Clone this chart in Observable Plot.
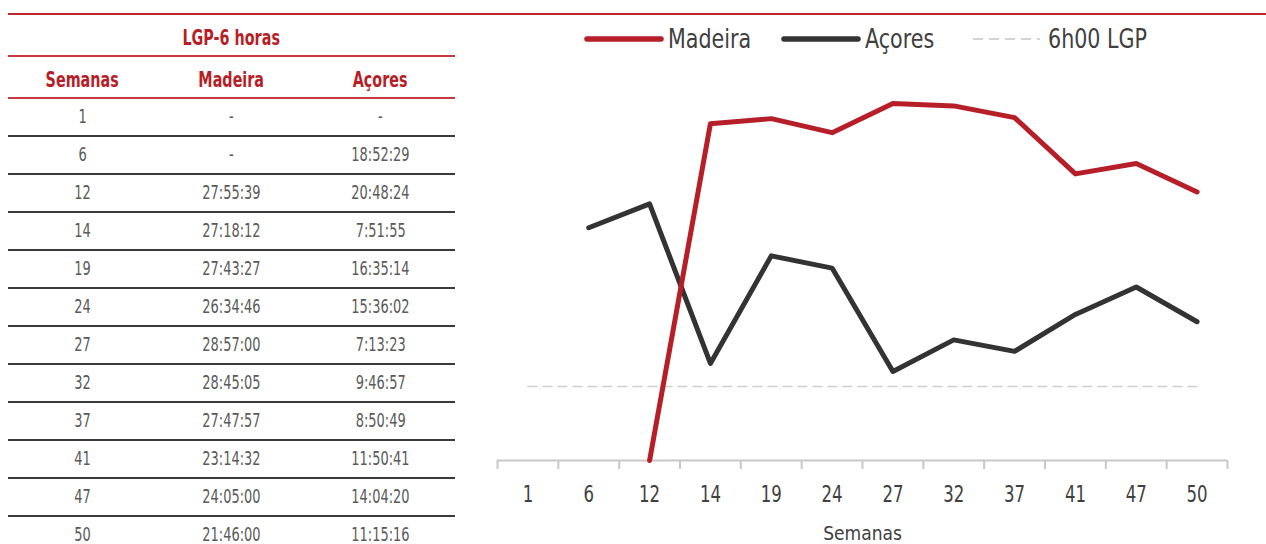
<!DOCTYPE html>
<html><head><meta charset="utf-8">
<script src="https://cdn.jsdelivr.net/npm/d3@7"></script>
<script src="https://cdn.jsdelivr.net/npm/@observablehq/plot@0.6"></script>
<style>
body{margin:0;width:1266px;height:544px;overflow:hidden;background:#fff;position:relative;font-family:"Liberation Sans Narrow","DejaVu Sans Condensed","Roboto",sans-serif}
#topline{position:absolute;left:8px;top:13px;width:1258px;height:2px;background:#c0272d}
table{position:absolute;left:8px;top:15px;width:447px;border-collapse:collapse;table-layout:fixed}
td,th{padding:0;text-align:center;white-space:nowrap}
th{color:#b71f28;font-weight:bold;font-size:21px;height:35px;padding-top:5px;border-bottom:2px solid #c63a40}
th span{display:inline-block;transform:scaleX(0.76)}
td{color:#5a5a5a;font-size:20px;height:28px;padding-top:8px;line-height:19px;vertical-align:top;border-bottom:2px solid #3a3a3a}
td span{display:inline-block;line-height:19px;transform:scaleX(0.72)}
.leg{position:absolute;top:22px;height:36px}
.leg svg{position:absolute;top:0}
.leg span{position:absolute;top:1px;font-size:27px;color:#404040;white-space:nowrap;line-height:32px;transform:scaleX(0.85);transform-origin:0 50%}
#chart{position:absolute;left:480px;top:60px}
</style></head>
<body>
<div id="topline"></div>
<table id="tbl"></table>
<div id="legend"></div>
<div id="chart"></div>
<script>
const tituloTabela = "LGP-6 horas";
const cabecalhos = ["Semanas", "Madeira", "Açores"];
const semanas = ["1","6","12","14","19","24","27","32","37","41","47","50"];
const madeiraTabela = ["-","-","27:55:39","27:18:12","27:43:27","26:34:46","28:57:00","28:45:05","27:47:57","23:14:32","24:05:00","21:46:00"];
const acoresTabela = ["-","18:52:29","20:48:24","7:51:55","16:35:14","15:36:02","7:13:23","9:46:57","8:50:49","11:50:41","14:04:20","11:15:16"];
// values as drawn in the chart (hours)
const madeiraGrafico = [null,null,0,27.30,27.72,26.58,28.95,28.75,27.80,23.24,24.08,21.77];
const acoresGrafico = [null,18.87,20.81,7.87,16.59,15.60,7.22,9.78,8.85,11.84,14.07,11.25];
const lgp6h = [6,6,6,6,6,6,6,6,6,6,6,6];
const seriesNomes = ["Madeira","Açores","6h00 LGP"];
const eixoTitulo = "Semanas";

// table
const tbl = document.getElementById("tbl");
let html = `<tr><th colspan="3"><span>${tituloTabela}</span></th></tr>`;
html += "<tr>" + cabecalhos.map(h => `<th><span>${h}</span></th>`).join("") + "</tr>";
semanas.forEach((s, i) => {
  html += `<tr><td><span>${s}</span></td><td><span>${madeiraTabela[i]}</span></td><td><span>${acoresTabela[i]}</span></td></tr>`;
});
tbl.innerHTML = html;

// legend
const legItems = [
  {name: seriesNomes[0], color: "#b71f28", w: 5.5, dash: null, left: 584, sw: 77, tx: 84},
  {name: seriesNomes[1], color: "#333333", w: 5.5, dash: null, left: 781, sw: 77, tx: 84},
  {name: seriesNomes[2], color: "#c8c8c8", w: 1.5, dash: "10,6", left: 970, sw: 70, tx: 78}
];
const leg = document.getElementById("legend");
legItems.forEach(it => {
  const d = document.createElement("div");
  d.className = "leg";
  d.style.left = it.left + "px";
  d.innerHTML = `<svg width="${it.sw+4}" height="36"><line x1="3" x2="${it.sw}" y1="17" y2="17" stroke="${it.color}" stroke-width="${it.w}" stroke-linecap="${it.dash ? 'butt' : 'round'}" ${it.dash ? `stroke-dasharray="${it.dash}"` : ""}/></svg><span style="left:${it.tx}px">${it.name}</span>`;
  leg.appendChild(d);
});

// chart
const dados = semanas.map((s, i) => ({i, semana: s, madeira: madeiraGrafico[i], acores: acoresGrafico[i], lgp: lgp6h[i]}));
const font = '"Liberation Sans Narrow","DejaVu Sans Condensed",sans-serif';
const chart = Plot.plot({
  width: 786,
  height: 484,
  marginLeft: 17,
  marginRight: 39,
  marginTop: 30,
  marginBottom: 84,
  style: {fontFamily: font, background: "transparent", overflow: "visible"},
  x: {type: "linear", domain: [-0.5, 11.5]},
  y: {domain: [0, 30], axis: null},
  marks: [
    Plot.line(dados, {x: "i", y: "lgp", stroke: "#d0d0d0", strokeWidth: 1.5, strokeDasharray: "9,6"}),
    Plot.ruleY([0], {stroke: "#c8c8c8", strokeWidth: 2}),
    Plot.axisX({ticks: d3.range(-0.5, 12, 1), tickSize: 9, tickFormat: () => "", stroke: "#c8c8c8", strokeWidth: 2, label: null}),
    Plot.axisX({ticks: d3.range(12), tickSize: 0, tickPadding: 25, tickFormat: i => semanas[i], fontSize: 23, fill: "#404040", label: null}),
    Plot.text([eixoTitulo], {frameAnchor: "bottom", dy: 73, fontSize: 19, fill: "#404040", lineAnchor: "middle"}),
    Plot.line(dados, {x: "i", y: "acores", stroke: "#333333", strokeWidth: 5, strokeLinecap: "round"}),
    Plot.line(dados, {x: "i", y: "madeira", stroke: "#b71f28", strokeWidth: 5, strokeLinecap: "round"})
  ]
});
chart.querySelectorAll("text").forEach(t => {
  if (!semanas.includes(t.textContent)) return;
  const s = 0.8;
  const tr = t.getAttribute("transform");
  if (tr) t.setAttribute("transform", tr + ` scale(${s},1)`);
  else {
    const x = +(t.getAttribute("x") || 0);
    t.setAttribute("transform", `translate(${x},0) scale(${s},1) translate(${-x},0)`);
  }
});
document.getElementById("chart").appendChild(chart);
</script>
</body></html>
